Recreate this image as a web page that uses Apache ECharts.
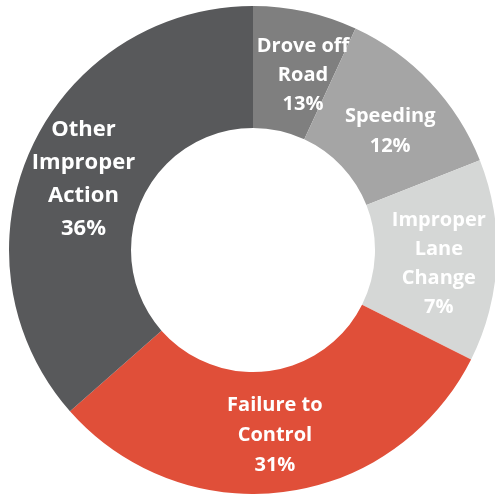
<!DOCTYPE html>
<html>
<head>
<meta charset="utf-8">
<script src="https://cdn.jsdelivr.net/npm/echarts@6/dist/echarts.min.js"></script>
<style>
  html, body { margin: 0; padding: 0; background: #fff; }
  #chart { width: 495px; height: 494px; }
</style>
</head>
<body>
<div id="chart"></div>
<script>
// slice sizes (angles), and the percent text printed on it
var categories = ['Drove off\nRoad', 'Speeding', 'Improper\nLane\nChange', 'Failure to\nControl', 'Other\nImproper\nAction']
var values = [6.9, 12.1, 13.4, 31.1, 36.5]
var percentLabels = ['13%', '12%', '7%', '31%', '36%']

var colors = ['#7f7f7f', '#a5a5a5', '#d5d7d6', '#e04f39', '#58595b']
var fontSizes = [20, 20, 20, 20, 22]
var lineHeights = [29, 30, 29, 30, 33]
var labelShift = [[10, 7], [2, 9], [0, 6], [-2, 1], [0, 6]]

var chart = echarts.init(document.getElementById('chart'))

var seriesData = []
for (var i = 0; i < categories.length; i++) {
  seriesData.push({
    name: categories[i],
    value: values[i],
    pct: percentLabels[i],
    itemStyle: { color: colors[i] },
    label: { fontSize: fontSizes[i], lineHeight: lineHeights[i], offset: labelShift[i] }
  })
}

chart.setOption({
  animation: false,
  series: [{
    type: 'pie',
    center: [253, 250],
    radius: [122, 244],
    startAngle: 90,
    clockwise: true,
    avoidLabelOverlap: false,
    labelLayout: { hideOverlap: false },
    itemStyle: { borderWidth: 0 },
    label: {
      show: true,
      position: 'inside',
      color: '#fff',
      fontFamily: 'Open Sans',
      fontWeight: 'bold',
      formatter: function (p) {
        return p.name + '\n' + p.data.pct
      }
    },
    labelLine: { show: false },
    emphasis: { disabled: true },
    data: seriesData
  }]
})
</script>
</body>
</html>
